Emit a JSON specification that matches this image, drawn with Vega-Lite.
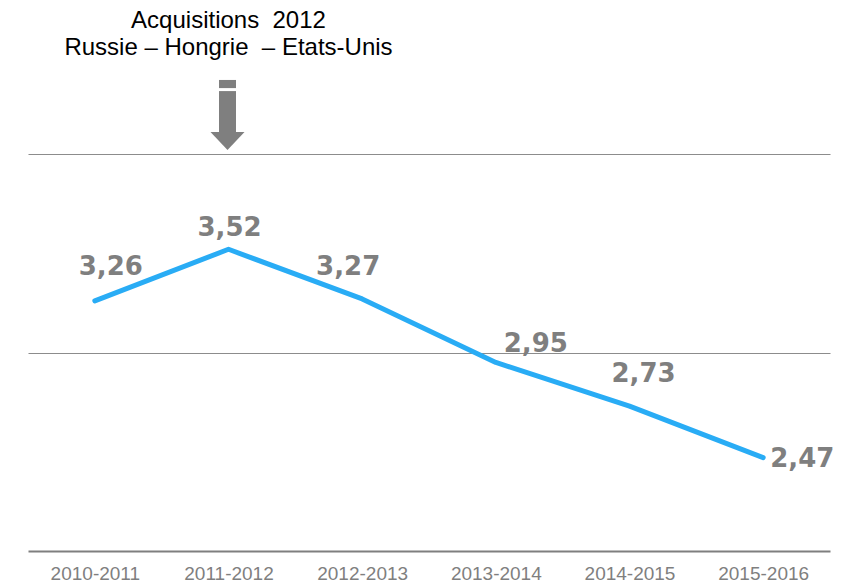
{
  "$schema": "https://vega.github.io/schema/vega-lite/v6.json",
  "autosize": {"type": "none"},
  "width": 802,
  "height": 397,
  "padding": {"top": 154, "left": 28, "right": 24, "bottom": 36},
  "background": "white",
  "config": {
    "view": {"stroke": null},
    "locale": {"number": {"decimal": ",", "thousands": " ", "grouping": [3], "currency": ["", " €"]}}
  },
  "datasets": {
    "series": [
      {"period": "2010-2011", "value": 3.26},
      {"period": "2011-2012", "value": 3.52},
      {"period": "2012-2013", "value": 3.27},
      {"period": "2013-2014", "value": 2.95},
      {"period": "2014-2015", "value": 2.73},
      {"period": "2015-2016", "value": 2.47}
    ],
    "note": [
      {"period": "2011-2012", "value": 4.635, "text": "Acquisitions\u00a0 2012"},
      {"period": "2011-2012", "value": 4.499, "text": "Russie – Hongrie\u00a0 – Etats-Unis"}
    ],
    "arrowParts": [
      {"period": "2011-2012", "top": 4.373, "bottom": 4.332},
      {"period": "2011-2012", "top": 4.317, "bottom": 4.108}
    ],
    "arrowHead": [
      {"period": "2011-2012", "value": 4.065}
    ]
  },
  "data": {"name": "series"},
  "encoding": {
    "x": {
      "field": "period", "type": "ordinal",
      "scale": {"type": "point", "padding": 0.5},
      "axis": {
        "title": null, "labelAngle": 0, "ticks": false,
        "domain": true, "domainColor": "#7f7f7f", "domainWidth": 2,
        "labelColor": "#7f7f7f", "labelFont": "Liberation Sans", "labelFontSize": 19,
        "labelPadding": 13, "grid": false
      }
    },
    "y": {
      "field": "value", "type": "quantitative",
      "scale": {"domain": [2, 4], "nice": false, "zero": false},
      "axis": {
        "title": null, "labels": false, "ticks": false, "domain": false,
        "values": [3, 4], "grid": true, "gridColor": "#8c8c8c", "gridWidth": 1.2
      }
    }
  },
  "layer": [
    {
      "mark": {"type": "line", "color": "#29acf5", "strokeWidth": 5, "strokeCap": "round", "strokeJoin": "round"}
    },
    {
      "transform": [{"filter": "datum.period == '2010-2011'"}],
      "mark": {"type": "text", "font": "DejaVu Sans", "fontWeight": "bold", "fontSize": 26, "color": "#7f7f7f", "align": "center", "baseline": "alphabetic", "dx": 16, "dy": -26},
      "encoding": {"text": {"field": "value", "type": "quantitative", "format": ".2f"}}
    },
    {
      "transform": [{"filter": "datum.period == '2011-2012'"}],
      "mark": {"type": "text", "font": "DejaVu Sans", "fontWeight": "bold", "fontSize": 26, "color": "#7f7f7f", "align": "center", "baseline": "alphabetic", "dx": 1, "dy": -13},
      "encoding": {"text": {"field": "value", "type": "quantitative", "format": ".2f"}}
    },
    {
      "transform": [{"filter": "datum.period == '2012-2013'"}],
      "mark": {"type": "text", "font": "DejaVu Sans", "fontWeight": "bold", "fontSize": 26, "color": "#7f7f7f", "align": "center", "baseline": "alphabetic", "dx": -14, "dy": -24},
      "encoding": {"text": {"field": "value", "type": "quantitative", "format": ".2f"}}
    },
    {
      "transform": [{"filter": "datum.period == '2013-2014'"}],
      "mark": {"type": "text", "font": "DejaVu Sans", "fontWeight": "bold", "fontSize": 26, "color": "#7f7f7f", "align": "center", "baseline": "alphabetic", "dx": 40, "dy": -10},
      "encoding": {"text": {"field": "value", "type": "quantitative", "format": ".2f"}}
    },
    {
      "transform": [{"filter": "datum.period == '2014-2015'"}],
      "mark": {"type": "text", "font": "DejaVu Sans", "fontWeight": "bold", "fontSize": 26, "color": "#7f7f7f", "align": "center", "baseline": "alphabetic", "dx": 14, "dy": -24},
      "encoding": {"text": {"field": "value", "type": "quantitative", "format": ".2f"}}
    },
    {
      "transform": [{"filter": "datum.period == '2015-2016'"}],
      "mark": {"type": "text", "font": "DejaVu Sans", "fontWeight": "bold", "fontSize": 26, "color": "#7f7f7f", "align": "left", "baseline": "alphabetic", "dx": 7, "dy": 9},
      "encoding": {"text": {"field": "value", "type": "quantitative", "format": ".2f"}}
    },
    {
      "data": {"name": "note"},
      "mark": {"type": "text", "font": "Liberation Sans", "fontSize": 24, "color": "#000000", "align": "center", "baseline": "alphabetic"},
      "encoding": {"text": {"field": "text", "type": "nominal"}}
    },
    {
      "data": {"name": "arrowParts"},
      "mark": {"type": "rule", "color": "#7f7f7f", "strokeWidth": 17, "strokeCap": "butt", "xOffset": -1},
      "encoding": {
        "y": {"field": "top", "type": "quantitative"},
        "y2": {"field": "bottom"}
      }
    },
    {
      "data": {"name": "arrowHead"},
      "mark": {"type": "point", "shape": "M-1,-0.53L1,-0.53L0,0.53Z", "size": 1156, "filled": true, "color": "#7f7f7f", "opacity": 1, "strokeWidth": 0, "xOffset": -1}
    }
  ]
}
